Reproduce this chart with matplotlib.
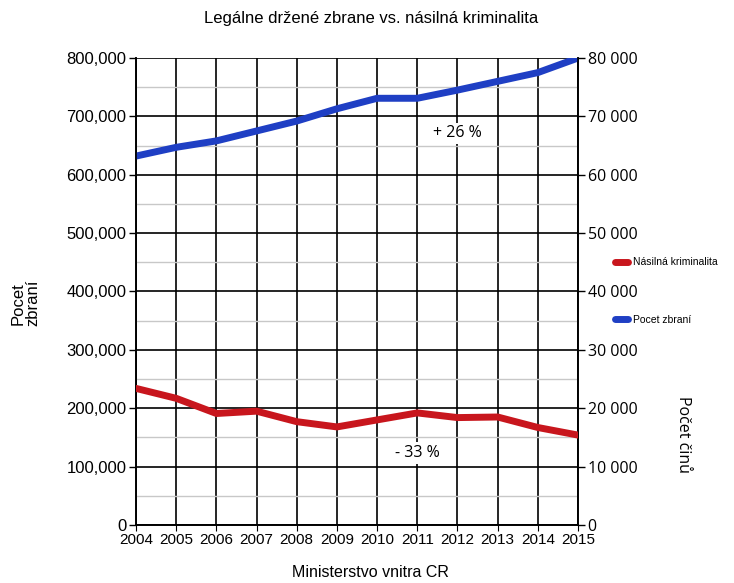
import matplotlib
matplotlib.use("Agg")
import matplotlib.pyplot as plt
from matplotlib.lines import Line2D
from matplotlib.ticker import MultipleLocator, FuncFormatter

years = [2004, 2005, 2006, 2007, 2008, 2009, 2010, 2011, 2012, 2013, 2014, 2015]
guns = [632000, 647000, 658000, 675000, 692000, 713000, 731000, 731000, 745000, 760000, 775000, 800000]
crimes = [23400, 21700, 19100, 19500, 17700, 16800, 18000, 19200, 18400, 18500, 16700, 15400]

title = "Legálne držené zbrane vs. násilná kriminalita"
xlabel = "Ministerstvo vnitra CR"
ylabel_left = "Pocet\nzbraní"
ylabel_right = "Počet činů"
label_crimes = "Násilná kriminalita"
label_guns = "Pocet zbraní"
note_guns = "+ 26 %"
note_crimes = "- 33 %"

plt.rcParams['font.family'] = ['Liberation Sans', 'DejaVu Sans']
OPEN = ['Open Sans', 'DejaVu Sans']

fig = plt.figure(figsize=(7.34, 5.83), dpi=100)
ax = fig.add_axes([0.1853, 0.0995, 0.6022, 0.801])
ax2 = ax.twinx()

ax.set_xlim(2004, 2015)
ax.set_ylim(0, 800000)
ax2.set_ylim(0, 80000)

ax.set_xticks(years)
ax.set_xticklabels([str(y) for y in years], fontsize=11)
ax.yaxis.set_major_locator(MultipleLocator(100000))
ax.yaxis.set_minor_locator(MultipleLocator(50000))
ax.yaxis.set_major_formatter(FuncFormatter(lambda v, p: f"{int(v):,}" if v else "0"))
ax2.yaxis.set_major_locator(MultipleLocator(10000))
ax2.yaxis.set_major_formatter(FuncFormatter(lambda v, p: f"{int(v):,}".replace(",", " ")))
ax.tick_params(axis='y', labelsize=12, length=5, width=1, pad=2, which='major')
ax.tick_params(axis='y', which='minor', length=0)
ax2.tick_params(axis='y', labelsize=11.5, length=5, width=1, pad=2)
for t in ax2.get_yticklabels():
    t.set_family(OPEN)
ax.tick_params(axis='x', length=4, pad=2)

ax.grid(True, which='major', axis='y', color='black', linewidth=1.2)
ax.grid(True, which='minor', axis='y', color='#c8c8c8', linewidth=1.0)
ax.grid(True, which='major', axis='x', color='black', linewidth=1.2, zorder=2)
ax.set_axisbelow(True)
for a in (ax, ax2):
    for s in a.spines.values():
        s.set_color('black')
        s.set_linewidth(1.2)
    a.spines['top'].set_visible(False)

ax.plot(years, guns, color='#1f3fc4', linewidth=5, solid_capstyle='round', zorder=3)
ax2.plot(years, crimes, color='#c8161d', linewidth=5, solid_capstyle='round', zorder=3)

ax.text(2012, 671000, note_guns, fontsize=11.5, ha='center', va='center', family=OPEN,
        bbox=dict(facecolor='white', edgecolor='none', pad=2), zorder=4)
ax2.text(2011, 12300, note_crimes, fontsize=11.5, ha='center', va='center', family=OPEN,
         bbox=dict(facecolor='white', edgecolor='none', pad=2), zorder=4)

fig.text(0.505, 0.968, title, ha='center', va='center', fontsize=12)
fig.text(0.505, 0.018, xlabel, ha='center', va='center', fontsize=11.5)
fig.text(0.035, 0.48, ylabel_left, ha='center', va='center', rotation=90, fontsize=12, linespacing=1.0)
fig.text(0.93, 0.255, ylabel_right, ha='center', va='center', rotation=-90, fontsize=11.5, family=OPEN)

handles = [Line2D([0], [0], color='#c8161d', linewidth=5, solid_capstyle='round'),
           Line2D([0], [0], color='#1f3fc4', linewidth=5, solid_capstyle='round')]
fig.legend(handles, [label_crimes, label_guns], loc='upper left',
           bbox_to_anchor=(0.825, 0.575), frameon=False, fontsize=7.5,
           handlelength=1.3, handletextpad=0.4, labelspacing=4.6)

fig.savefig("out.png", dpi=100)
